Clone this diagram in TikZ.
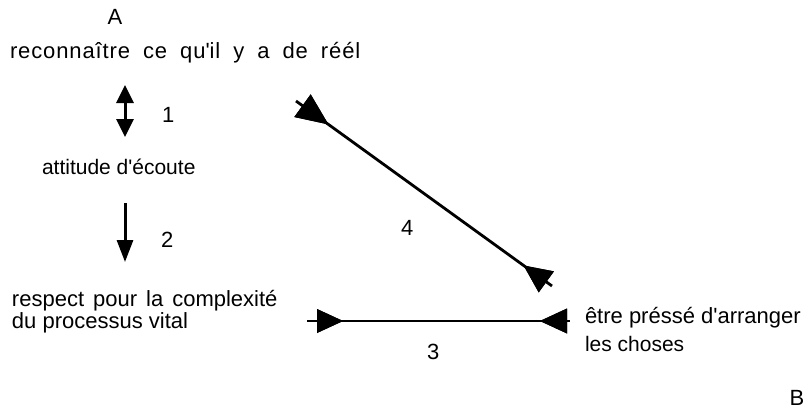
\documentclass[tikz,border=0pt]{standalone}
\usepackage{fontspec}
\setmainfont{Liberation Sans}
\usetikzlibrary{arrows.meta,decorations.markings}
\begin{document}
\begin{tikzpicture}[x=1pt,y=-1pt,
  every node/.style={inner sep=0pt, outer sep=0pt, font=\fontsize{22}{26}\selectfont},
  lbl/.style={anchor=base west},
  clbl/.style={anchor=base},
  vshaft/.style={line width=3pt},
  headAA/.style={{Triangle[length=18pt,width=17pt]}-{Triangle[length=18pt,width=17pt]}},
  headB/.style={-{Triangle[length=22pt,width=16pt]}},
  inhead/.style n args={3}{postaction={decorate}, decoration={markings,
     mark=at position #1 with {\fill (0pt,-#3/2) -- (#2,0pt) -- (0pt,#3/2) -- cycle;}}},
  outhead/.style n args={3}{postaction={decorate}, decoration={markings,
     mark=at position #1 with {\fill (0pt,-#3/2) -- (-#2,0pt) -- (0pt,#3/2) -- cycle;}}}
]
\useasboundingbox (0,0) rectangle (811,412);

% texts
\node[clbl] (A) at (115,25) {A};
\node[lbl] (rec) at (10,59) {\addfontfeature{LetterSpace=4}\spaceskip=13pt reconnaître ce qu\textquotesingle il y a de réél};
\node[lbl] (n1) at (162,122) {1};
\node[lbl, font=\fontsize{21}{25}\selectfont] (att) at (42,174) {attitude d\textquotesingle écoute};
\node[lbl] (n2) at (161,247) {2};
\node[lbl] (n4) at (401,235) {4};
\node[lbl] (resp1) at (12,306) {\spaceskip=9pt respect pour la complexité};
\node[lbl] (resp2) at (12,328) {du processus vital};
\node[lbl] (etre1) at (585,323) {être préssé d\textquotesingle arranger};
\node[lbl, font=\fontsize{21}{25}\selectfont] (etre2) at (585,351) {les choses};
\node[lbl] (n3) at (427,359) {3};
\node[clbl] (B) at (797,405) {B};

% coordinates for connector ends
\coordinate (a1t) at (125,85);
\coordinate (a1b) at (125,137);
\coordinate (a2t) at (125,203);
\coordinate (a2b) at (125,262);
\coordinate (l4s) at (296,101);
\coordinate (l4e) at (552,286);
\coordinate (l3s) at (307,321);
\coordinate (l3e) at (570,321);

% arrows 1 and 2
\draw[vshaft, headAA] (a1t) -- (a1b);
\draw[vshaft, headB] (a2t) -- (a2b);

% line 4 with inward heads
\draw[line width=2.8pt, inhead={8pt}{32pt}{28pt}, outhead={-7pt}{28pt}{26pt}] (l4s) -- (l4e);
% line 3 with inward heads
\draw[line width=2pt, inhead={10pt}{26pt}{24pt}, outhead={-3pt}{27pt}{25pt}] (l3s) -- (l3e);
\end{tikzpicture}
\end{document}
